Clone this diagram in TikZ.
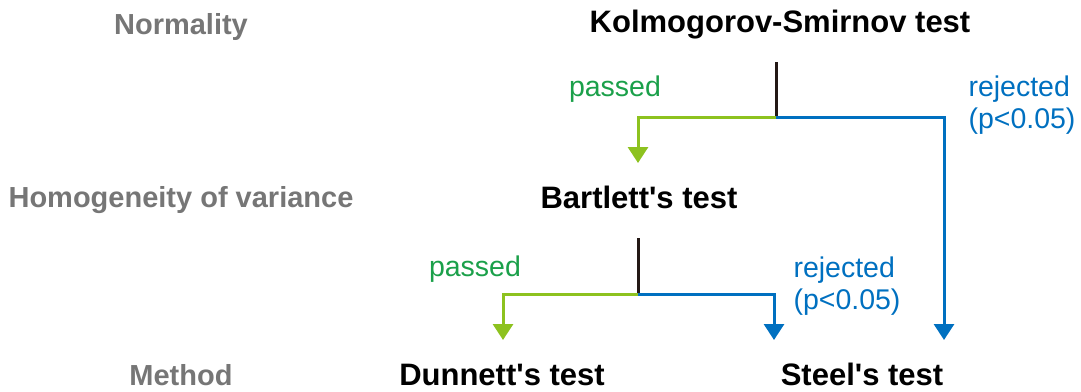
\documentclass[tikz,border=0pt]{standalone}
\usepackage{fontspec}
\setmainfont{Liberation Sans}[Ligatures=TeXOff]
\usetikzlibrary{arrows.meta}
\definecolor{headgray}{HTML}{767676}
\definecolor{passtext}{HTML}{1BA04A}
\definecolor{passline}{HTML}{8DC21F}
\definecolor{rejblue}{HTML}{0070C0}
\definecolor{stemblack}{HTML}{231815}

\begin{document}
\begin{tikzpicture}[x=1pt,y=-1pt,
  level/.style={font=\fontsize{29}{32}\selectfont\bfseries, text=headgray, anchor=base},
  testname/.style={font=\fontsize{31}{34}\selectfont\bfseries, text=black, anchor=base},
  cond/.style={font=\fontsize{28.5}{32}\selectfont},
  stem/.style={line width=3pt, stemblack},
  yes/.style={line width=3pt, passline, -{Triangle[width=20pt,length=16pt]}},
  no/.style={line width=3pt, rejblue, -{Triangle[width=20pt,length=16pt]}}]
\useasboundingbox (0,0) rectangle (1081,391);
% row labels
\node[level] (normality) at (181,34) {Normality};
\node[level] (homog) at (181,207) {Homogeneity of variance};
\node[level] (method) at (181,385) {Method};
% tests
\node[testname] (ks) at (780,32) {Kolmogorov-Smirnov test};
\node[testname] (bart) at (639,208) {Bartlett's test};
\node[testname] (dun) at (502,385) {Dunnett's test};
\node[testname] (steel) at (862,385) {Steel's test};
% forks and arrow tips
\coordinate (kstop) at (776,62);
\coordinate (ksfork) at (776,117);
\coordinate (toBart) at (638,163);
\coordinate (toSteelA) at (944,340);
\coordinate (btop) at (638,238);
\coordinate (bfork) at (638,294);
\coordinate (toDun) at (503,340);
\coordinate (toSteelB) at (774,340);
\draw[stem] (kstop) -- (ksfork);
\draw[yes] (ksfork) -| (toBart);
\draw[no] (ksfork) -| (toSteelA);
\draw[stem] (btop) -- (bfork);
\draw[yes] (bfork) -| (toDun);
\draw[no] (bfork) -| (toSteelB);
% branch labels
\node[cond, text=passtext] (pass1) at (615,89) {passed};
\node[cond, text=rejblue, align=left, anchor=west] (rej1) at (965,105) {rejected\\(p<0.05)};
\node[cond, text=passtext] (pass2) at (475,269) {passed};
\node[cond, text=rejblue, align=left, anchor=west] (rej2) at (790,286) {rejected\\(p<0.05)};
\end{tikzpicture}
\end{document}
